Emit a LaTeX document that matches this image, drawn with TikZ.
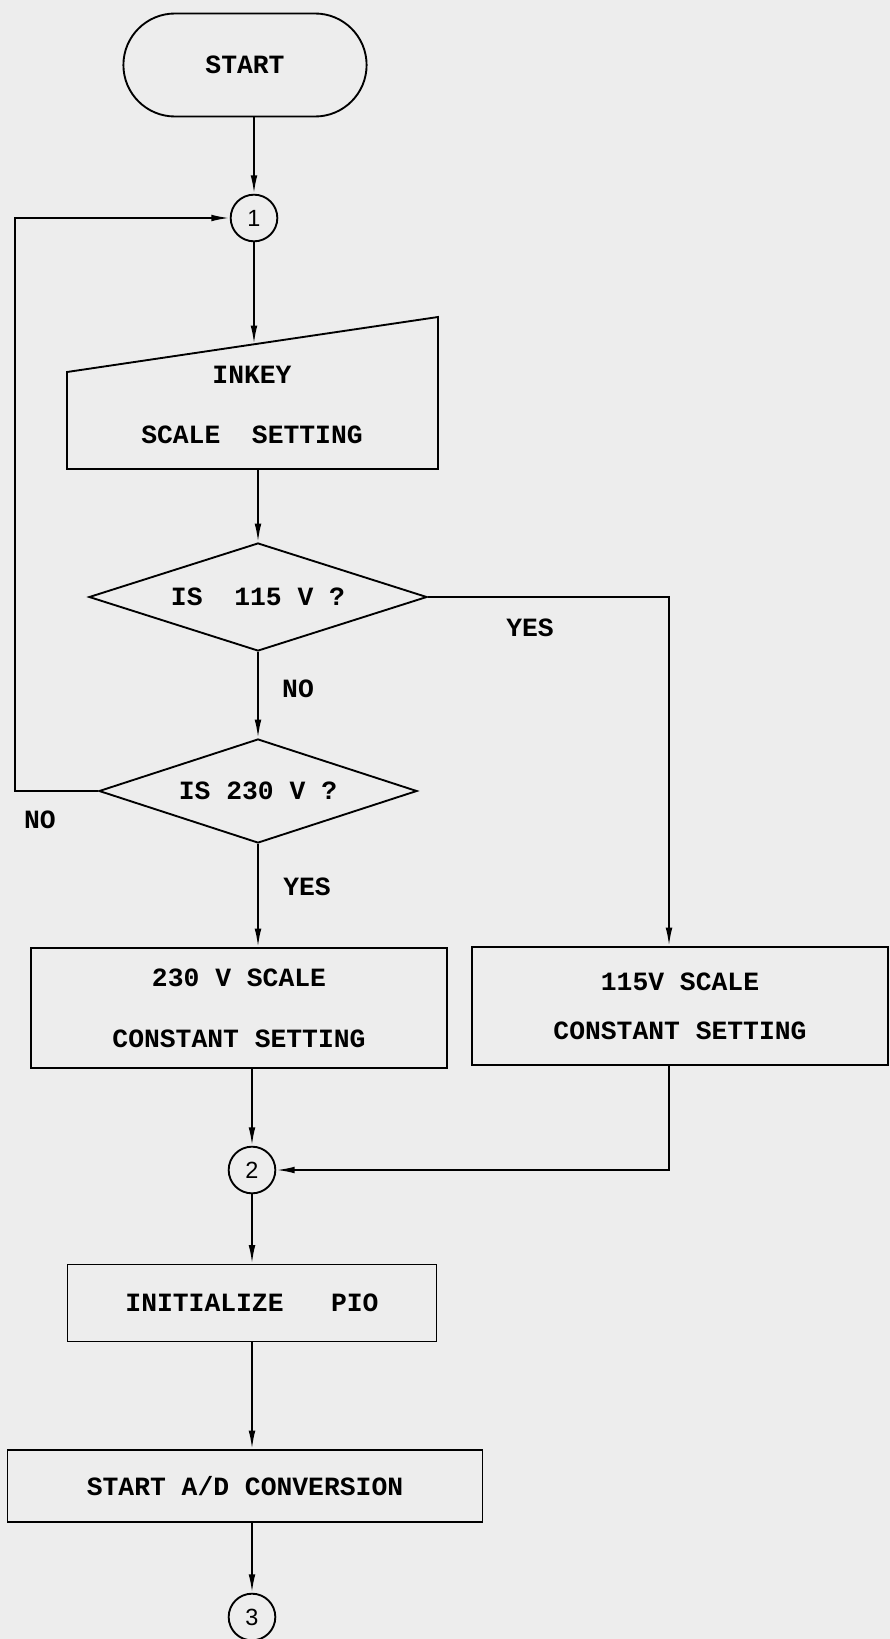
\documentclass[tikz,border=0pt]{standalone}
\usepackage{fontspec}
\setmonofont{Liberation Mono}
\newfontfamily\numfont{Liberation Sans}
\usepackage{tikz}
\usetikzlibrary{shapes.geometric,shapes.misc,arrows.meta}

\begin{document}
\begin{tikzpicture}[x=0.03cm,y=-0.03cm,line width=1.6pt,
    every node/.style={font=\ttfamily\bfseries\fontsize{22.5}{26}\selectfont},
    arr/.style={-{Latex[length=0.55cm,width=0.2cm]}},
    procbox/.style={draw,rectangle,align=center,inner sep=0pt},
    decision/.style={draw,diamond,aspect=3.1,inner sep=0pt},
    conn/.style={draw,circle,minimum size=1.4cm,inner sep=0pt,
      font=\numfont\fontsize{20}{22}\selectfont}]
  % paper
  \fill[black!7] (0,0) rectangle (890,1639);
  \useasboundingbox (0,0) rectangle (890,1639);
  % start and connector 1
  \node[draw,rounded rectangle,minimum width=7.53cm,minimum height=3.09cm] (start) at (245,65) {START};
  \node[conn] (c1) at (254,218) {1};
  % manual input: inkey
  \draw (67,372) -- (438,317) -- (438,469) -- (67,469) -- cycle;
  \coordinate (inkeytop) at (254,344);
  \coordinate (inkeybot) at (258,469);
  \node[align=center] (inkey) at (252,405) {INKEY\\[0.9cm]SCALE\ \ SETTING};
  % the two tests
  \node[decision,minimum width=10.14cm,minimum height=3.24cm] (d1) at (258,597) {IS\ \ 115 V ?};
  \node[decision,minimum width=9.54cm,minimum height=3.12cm] (d2) at (258,791) {IS 230 V ?};
  % scale constants
  \node[procbox,minimum width=12.48cm,minimum height=3.6cm] (box230) at (239,1008) {230 V SCALE\\[0.92cm]CONSTANT SETTING};
  \node[procbox,minimum width=12.48cm,minimum height=3.54cm] (box115) at (680,1006) {115V SCALE\\[0.55cm]CONSTANT SETTING};
  \node[conn] (c2) at (252,1170) {2};
  % pio and a/d
  \node[procbox,minimum width=11.07cm,minimum height=2.31cm] (pio) at (252,1303) {INITIALIZE\ \ \ PIO};
  \node[procbox,minimum width=14.25cm,minimum height=2.16cm] (adc) at (245,1486) {START A/D CONVERSION};
  \node[conn] (c3) at (252,1617) {3};
  % labels
  \node (no1) at (298,689) {NO};
  \node (yes1) at (530,628) {YES};
  \node (no2) at (40,820) {NO};
  \node (yes2) at (307,887) {YES};
  % flow
  \coordinate (loop) at (15,791);
  \coordinate (yes) at (669,597);
  \draw[arr] (c1 |- start.south) -- (c1);
  \draw[arr] (c1) -- (inkeytop);
  \draw[arr] (inkeybot) -- (d1.north);
  \draw[arr] (d1.south) -- (d2.north);
  \draw[arr] (d2.west) -- (loop) |- (c1);
  \draw[arr] (d1) -- (yes) -- (yes |- box115.north);
  \draw[arr] (d2.south) -- (d2.south |- box230.north);
  \draw[arr] (c2 |- box230.south) -- (c2);
  \draw[arr] (yes |- box115.south) |- (c2);
  \draw[arr] (c2) -- (pio);
  \draw[arr] (pio.south) -- (pio.south |- adc.north);
  \draw[arr] (c3 |- adc.south) -- (c3);
\end{tikzpicture}
\end{document}
